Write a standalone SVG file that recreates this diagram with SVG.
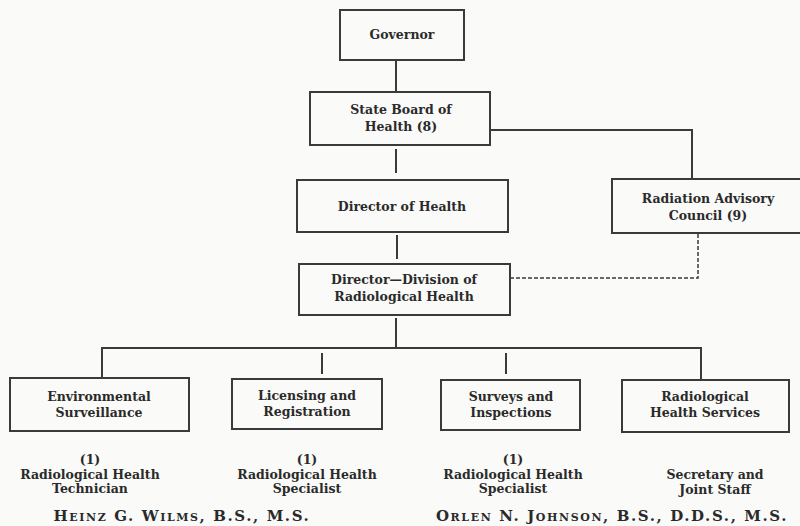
<svg xmlns="http://www.w3.org/2000/svg" width="800" height="526" viewBox="0 0 800 526">
<style>
.box{fill:none;stroke:#3a3a3a;stroke-width:2}
.ln{fill:none;stroke:#3a3a3a;stroke-width:2}
.dash{fill:none;stroke:#3a3a3a;stroke-width:1.5;stroke-dasharray:4 2}
text{font-family:"DejaVu Serif","Liberation Serif",serif;font-weight:bold;font-size:12.5px;fill:#2a2a2a;text-anchor:middle}
.name{font-size:15px;font-variant:small-caps;letter-spacing:1.6px}
</style>
<rect width="800" height="526" fill="#fafaf8"/>
<g id="connectors">
<line class="ln" x1="396" y1="61" x2="396" y2="91"/>
<polyline class="ln" points="490,130 692,130 692,178"/>
<line class="ln" x1="396" y1="149" x2="396" y2="173"/>
<line class="ln" x1="397" y1="235" x2="397" y2="259"/>
<polyline class="dash" points="698,234 698,278 510,278"/>
<line class="ln" x1="396" y1="318" x2="396" y2="348"/>
<polyline class="ln" points="102,378 102,348 701,348 701,379"/>
<line class="ln" x1="322" y1="353" x2="322" y2="374"/>
<line class="ln" x1="506" y1="353" x2="506" y2="374"/>
</g>
<g id="governor">
<rect class="box" x="340" y="10" width="124" height="50"/>
<text x="402" y="39">Governor</text>
</g>
<g id="state-board">
<rect class="box" x="310" y="92" width="180" height="53"/>
<text x="401" y="114">State Board of</text>
<text x="401" y="131">Health (8)</text>
</g>
<g id="radiation-council">
<rect class="box" x="612" y="179" width="190" height="54"/>
<text x="708" y="203">Radiation Advisory</text>
<text x="708" y="220">Council (9)</text>
</g>
<g id="director-health">
<rect class="box" x="297" y="180" width="211" height="52"/>
<text x="402" y="211">Director of Health</text>
</g>
<g id="director-division">
<rect class="box" x="299" y="264" width="211" height="51"/>
<text x="404" y="284">Director—Division of</text>
<text x="404" y="301">Radiological Health</text>
</g>
<g id="environmental">
<rect class="box" x="10" y="378" width="179" height="53"/>
<text x="99" y="401">Environmental</text>
<text x="99" y="417">Surveillance</text>
<text x="90" y="464">(1)</text>
<text x="90" y="479">Radiological Health</text>
<text x="90" y="493">Technician</text>
</g>
<g id="licensing">
<rect class="box" x="232" y="379" width="150" height="50"/>
<text x="307" y="400">Licensing and</text>
<text x="307" y="416">Registration</text>
<text x="307" y="464">(1)</text>
<text x="307" y="479">Radiological Health</text>
<text x="307" y="493">Specialist</text>
</g>
<g id="surveys">
<rect class="box" x="441" y="380" width="139" height="50"/>
<text x="511" y="401">Surveys and</text>
<text x="511" y="417">Inspections</text>
<text x="513" y="464">(1)</text>
<text x="513" y="479">Radiological Health</text>
<text x="513" y="493">Specialist</text>
</g>
<g id="health-services">
<rect class="box" x="622" y="380" width="167" height="52"/>
<text x="705" y="401">Radiological</text>
<text x="705" y="417">Health Services</text>
<text x="715" y="479">Secretary and</text>
<text x="715" y="494">Joint Staff</text>
</g>
<g id="names">
<text class="name" x="182" y="521">Heinz G. Wilms, B.S., M.S.</text>
<text class="name" x="612" y="521">Orlen N. Johnson, B.S., D.D.S., M.S.</text>
</g>
</svg>
